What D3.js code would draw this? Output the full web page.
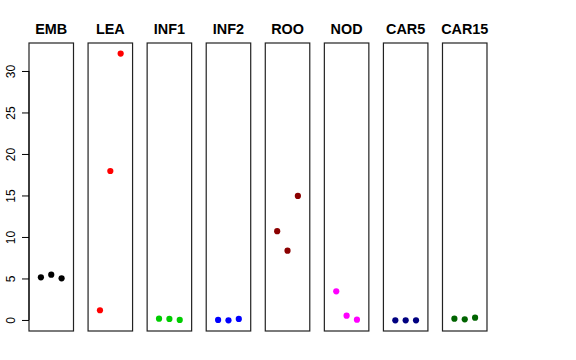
<!DOCTYPE html>
<html>
<head>
<meta charset="utf-8">
<script src="https://cdn.jsdelivr.net/npm/d3@7"></script>
<style>
  body { margin: 0; background: #fff; }
  svg { display: block; font-family: "Liberation Sans", Arial, sans-serif; }
</style>
</head>
<body>
<div id="vis"></div>
<script>
const tissues = ["EMB", "LEA", "INF1", "INF2", "ROO", "NOD", "CAR5", "CAR15"];
const colors = ["#000000", "#FF0000", "#00CD00", "#0000FF", "#8B0000", "#FF00FF", "#000080", "#006400"];
// three replicates per tissue
const rep1 = [5.14, 1.17, 0.15, 0.0, 10.7, 3.45, -0.04, 0.16];
const rep2 = [5.46, 17.95, 0.12, -0.04, 8.35, 0.52, -0.04, 0.08];
const rep3 = [5.02, 32.1, 0.0, 0.12, 14.94, 0.04, -0.04, 0.28];
const yTicks = [0, 5, 10, 15, 20, 25, 30];

const FRAME_WIDTH = 576;
const FRAME_HEIGHT = 360;
const TOP = 43, BOTTOM = 331;
const PANEL_LEFT = 29, PANEL_W = 44.5, PANEL_STEP = 59.07;

const svg = d3.select("#vis").append("svg")
  .attr("width", FRAME_WIDTH)
  .attr("height", FRAME_HEIGHT);

const Y_SCALE = d3.scaleLinear()
  .domain([-1.33, 33.37])
  .range([BOTTOM, TOP]);

const X_SCALE = d3.scaleLinear()
  .domain([-0.15, 4.15])
  .range([0, PANEL_W]);

tissues.forEach((t, i) => {
  const g = svg.append("g")
    .attr("transform", "translate(" + (PANEL_LEFT + i * PANEL_STEP) + ",0)");

  const pts = [rep1[i], rep2[i], rep3[i]];
  g.selectAll("circle")
    .data(pts)
    .enter()
    .append("circle")
      .attr("cx", (d, j) => X_SCALE(j + 1))
      .attr("cy", d => Y_SCALE(d))
      .attr("r", 3.1)
      .attr("fill", colors[i]);

  g.append("rect")
    .attr("x", 0)
    .attr("y", TOP)
    .attr("width", PANEL_W)
    .attr("height", BOTTOM - TOP)
    .attr("fill", "none")
    .attr("stroke", "#222")
    .attr("stroke-width", 1.2);

  g.append("text")
    .attr("x", PANEL_W / 2)
    .attr("y", 34)
    .attr("text-anchor", "middle")
    .attr("font-weight", "bold")
    .attr("font-size", "14.4px")
    .text(t);
});

// left axis on the first panel only
const axis = svg.append("g")
  .attr("transform", "translate(" + PANEL_LEFT + ",0)")
  .call(d3.axisLeft(Y_SCALE).tickValues(yTicks).tickSize(7).tickSizeOuter(0));

axis.select(".domain")
  .attr("d", "M0," + Y_SCALE(0) + "V" + Y_SCALE(30));

axis.selectAll(".tick text")
  .attr("font-size", "12px")
  .attr("font-family", "Liberation Sans, Arial, sans-serif")
  .attr("fill", "#000")
  .attr("text-anchor", "middle")
  .attr("dy", null)
  .attr("x", null)
  .attr("transform", "translate(-14,0) rotate(-90)");
</script>
</body>
</html>
